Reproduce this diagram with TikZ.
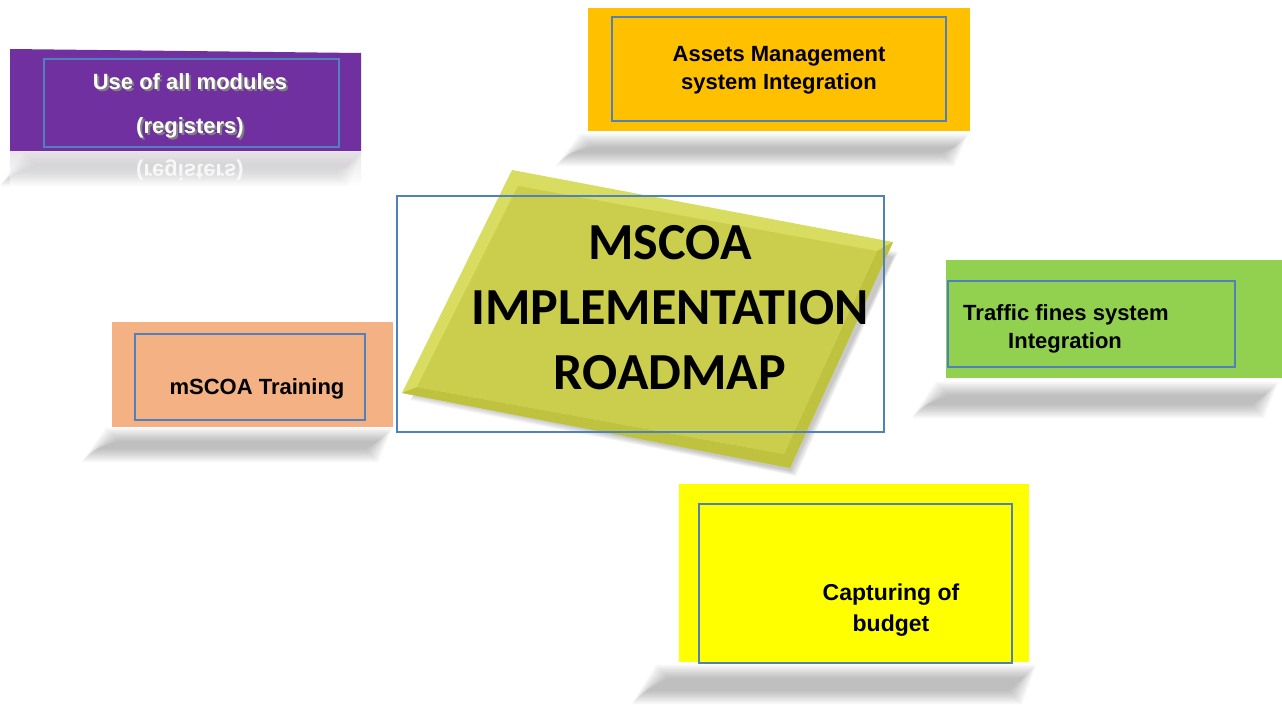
\documentclass[tikz,border=0pt]{standalone}
\usepackage{fontspec}
\setmainfont{Liberation Sans}
\newfontfamily\titlefont{Carlito}

\definecolor{modpurple}{RGB}{112,48,160}
\definecolor{assetorange}{RGB}{255,192,0}
\definecolor{trafficgreen}{RGB}{146,208,80}
\definecolor{trainpeach}{RGB}{244,177,131}
\definecolor{budgetyellow}{RGB}{255,255,0}
\definecolor{edgeblue}{RGB}{79,129,189}
\definecolor{plateedge}{RGB}{216,220,96}
\definecolor{platelow}{RGB}{190,194,62}
\definecolor{platetop}{RGB}{202,206,76}

\begin{document}
\begin{tikzpicture}[x=1pt,y=-1pt,
  frame/.style={draw=edgeblue, line width=2pt},
  boxtext/.style={font=\bfseries\fontsize{22}{28}\selectfont, inner sep=0pt, align=center},
  titletext/.style={font=\titlefont\bfseries\fontsize{52}{65}\selectfont, inner sep=0pt, align=center}]
\useasboundingbox (0,0) rectangle (1282,704);

% blurred shadow band: left, right, top, bottom
\def\shadowband#1#2#3#4{%
  \foreach \k in {0,...,7} {
    \fill[black, opacity=0.035] ({#1+24+\k*1.8},{#3+\k*1.8}) -- ({#2-\k*1.8},{#3+\k*1.8})
      -- ({#2-14-\k*1.8},{#4-\k*1.8}) -- ({#1+\k*1.8},{#4-\k*1.8}) -- cycle;
  }}

% shadows under the boxes
\shadowband{0}{362}{152}{186}
\shadowband{556}{968}{134}{166}
\shadowband{912}{1278}{382}{418}
\shadowband{82}{392}{428}{462}
\shadowband{632}{1036}{665}{704}

% central tilted plate, with its own soft shadow
\foreach \k in {0,...,5} {
  \fill[black, opacity=0.04] ({520+\k},{182+\k}) -- ({898-\k},{252+\k}) -- ({796-\k},{476-\k}) -- ({410+\k},{400-\k}) -- cycle;
}
\fill[plateedge] (512,170) -- (893,242) -- (790,468) -- (402,393) -- cycle;
% darker bevel on the lower right sides
\fill[platelow] (893,242) -- (790,468) -- (402,393) -- (417,387) -- (784,454) -- (877,251) -- cycle;
\fill[platetop] (518,186) -- (877,251) -- (784,454) -- (417,387) -- cycle;

% use of all modules
\fill[modpurple] (10,49) -- (361,53) -- (361,151) -- (10,151) -- cycle;
\shade[top color=modpurple!20!gray!30, bottom color=white, opacity=0.6] (10,152) rectangle (361,186);
\draw[frame, line width=1.5pt] (44,59) rectangle (339,147);
\node[boxtext, text=gray] (useshadow) at (192,84) {Use of all modules};
\node[boxtext, text=white] (usemods) at (190,82) {Use of all modules};
\node[boxtext, text=gray] (regshadow) at (192,130) {(registers)};
\node[boxtext, text=white] (regs) at (190,128) {(registers)};
\node[boxtext, text=white, opacity=0.8, yscale=-1, transform shape] (regmirror) at (190,170) {(registers)};

% assets management
\fill[assetorange] (588,8) rectangle (970,131);
\draw[frame] (612,17) rectangle (946,121);
\node[boxtext] (assets) at (779,70) {Assets Management\\system Integration};

% traffic fines
\fill[trafficgreen] (946,260) rectangle (1282,378);
\draw[frame] (948,281) rectangle (1235,367);
\node[boxtext, anchor=west] (traffic) at (963,315) {Traffic fines system};
\node[boxtext, anchor=west] (trafficint) at (1008,343) {Integration};

% training
\fill[trainpeach] (112,322) rectangle (393,427);
\draw[frame] (135,334) rectangle (365,420);
\node[boxtext] (training) at (257,389) {mSCOA Training};

% budget
\fill[budgetyellow] (679,484) rectangle (1029,662);
\draw[frame] (699,504) rectangle (1012,663);
\node[boxtext, font=\bfseries\fontsize{23}{31}\selectfont] (budget) at (891,610) {Capturing of\\budget};

% roadmap title
\draw[edgeblue, line width=1.5pt] (397,196) rectangle (884,432);
\node[titletext] (roadmap) at (670,308) {MSCOA\\IMPLEMENTATION\\ROADMAP};

\end{tikzpicture}
\end{document}
